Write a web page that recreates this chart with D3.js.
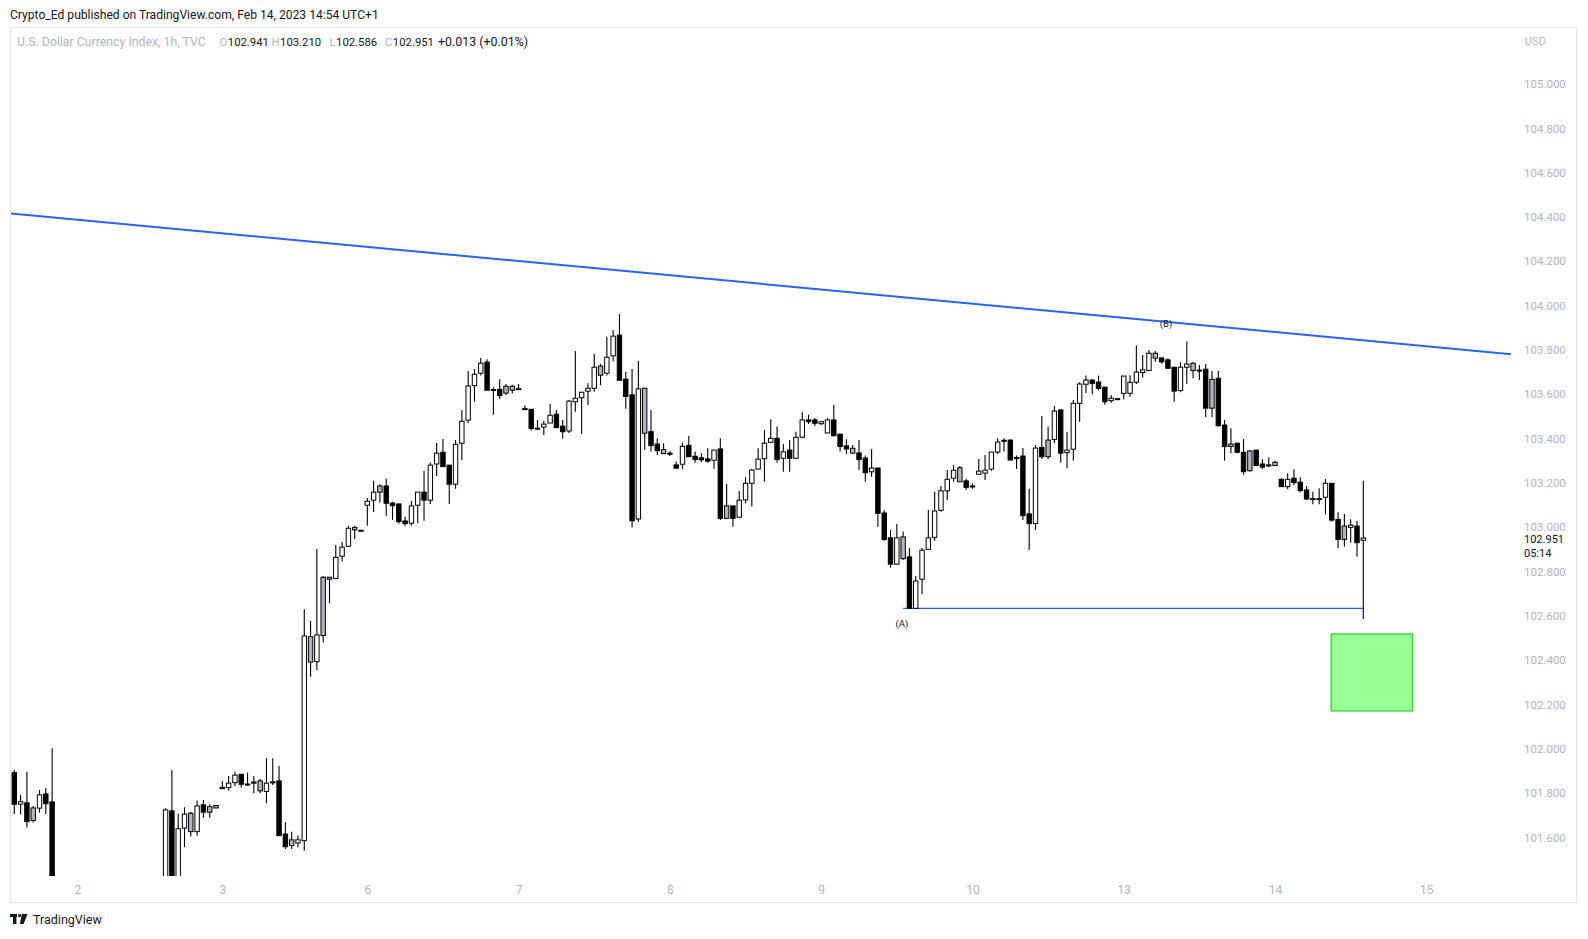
<!DOCTYPE html>
<html>
<head>
<meta charset="utf-8">
<script src="https://cdn.jsdelivr.net/npm/d3@7"></script>
<style>
  html, body { margin: 0; padding: 0; background: #fff; }
  svg { display: block; font-family: Roboto, "Liberation Sans", sans-serif; }
</style>
</head>
<body>
<svg id="chart" width="1588" height="939"></svg>
<script>
// hourly DXY candles, index 0 = Feb 1 14:00 (UTC+1)
// bars 7-23 sit below the visible price range, so they are rough guesses
const open = [101.892,101.750,101.756,101.676,101.732,101.796,101.760,
  101.30,101.12,100.98,100.92,100.96,101.00,101.02,101.04,101.06,101.03,101.00,101.05,101.10,101.15,101.12,101.17,101.20,
  101.26,101.720,101.35,101.642,101.709,101.626,101.747,101.714,101.733,101.826,101.825,101.847,101.885,101.841,101.850,101.855,
  101.807,101.846,101.855,101.615,101.563,101.575,101.585,102.506,102.393,102.511,102.765,102.768,102.869,102.914,102.988,102.986,
  103.099,103.122,103.158,103.186,103.109,103.105,103.028,103.018,103.099,103.158,103.122,103.285,103.338,103.280,103.194,103.379,
  103.483,103.639,103.695,103.745,103.621,103.622,103.605,103.636,103.623,103.535,103.532,103.447,103.452,103.470,103.510,103.456,
  103.434,103.566,103.584,103.614,103.627,103.727,103.695,103.773,103.867,103.668,103.597,103.037,103.627,103.431,103.375,103.350,
  103.334,103.281,103.284,103.369,103.320,103.313,103.308,103.302,103.353,103.040,103.096,103.045,103.123,103.198,103.262,103.309,
  103.383,103.401,103.311,103.348,103.311,103.406,103.484,103.484,103.467,103.425,103.484,103.420,103.367,103.356,103.335,103.312,
  103.250,103.267,103.064,102.952,102.833,102.956,102.866,102.634,102.765,102.900,102.954,103.076,103.164,103.221,103.268,103.209,
  103.186,103.239,103.244,103.262,103.339,103.390,103.393,103.314,103.321,103.060,103.016,103.360,103.318,103.396,103.529,103.336,
  103.352,103.559,103.645,103.664,103.655,103.632,103.571,103.580,103.604,103.604,103.654,103.698,103.707,103.785,103.764,103.755,
  103.722,103.617,103.722,103.740,103.708,103.713,103.537,103.672,103.461,103.364,103.379,103.338,103.255,103.348,103.285,103.281,
  103.278,103.216,103.183,103.221,103.203,103.168,103.129,103.128,103.135,103.198,103.035,102.945,102.999,103.005,102.941];

const high = [101.904,101.792,101.896,101.742,101.814,101.823,102.002,
  101.38,101.20,101.05,101.02,101.04,101.06,101.08,101.10,101.12,101.08,101.07,101.14,101.18,101.22,101.20,101.24,101.30,
  101.732,101.904,101.708,101.736,101.716,101.766,101.769,101.750,101.746,101.855,101.877,101.896,101.885,101.892,101.877,101.864,
  101.957,101.957,101.923,101.669,101.626,101.609,102.630,102.577,102.902,102.780,102.776,102.920,102.933,103.006,103.006,102.988,
  103.132,103.209,103.194,103.218,103.115,103.105,103.047,103.118,103.158,103.254,103.292,103.380,103.398,103.280,103.393,103.529,
  103.705,103.713,103.764,103.758,103.632,103.668,103.646,103.643,103.646,103.550,103.532,103.484,103.479,103.556,103.529,103.484,
  103.574,103.795,103.609,103.650,103.782,103.737,103.859,103.890,103.962,103.700,103.714,103.750,103.627,103.529,103.401,103.379,
  103.344,103.296,103.382,103.411,103.341,103.334,103.356,103.348,103.401,103.195,103.096,103.163,103.225,103.262,103.356,103.439,
  103.487,103.454,103.375,103.393,103.431,103.521,103.507,103.493,103.476,103.491,103.551,103.420,103.397,103.371,103.393,103.323,
  103.353,103.267,103.076,102.987,103.014,102.980,102.906,102.780,102.906,103.078,103.160,103.186,103.258,103.281,103.276,103.218,
  103.198,103.308,103.326,103.339,103.401,103.401,103.397,103.323,103.357,103.173,103.371,103.502,103.454,103.547,103.533,103.431,
  103.574,103.654,103.684,103.668,103.684,103.632,103.597,103.582,103.682,103.686,103.820,103.777,103.800,103.795,103.764,103.762,
  103.722,103.745,103.838,103.745,103.732,103.736,103.705,103.705,103.484,103.447,103.379,103.398,103.348,103.348,103.306,103.314,
  103.300,103.221,103.243,103.261,103.225,103.186,103.160,103.176,103.218,103.198,103.067,103.060,103.036,103.028,103.210];

const low = [101.706,101.705,101.646,101.667,101.712,101.705,101.22,
  101.05,100.90,100.85,100.88,100.92,100.95,100.98,101.00,101.01,100.97,100.96,101.02,101.06,101.08,101.07,101.12,101.16,
  101.22,101.30,101.32,101.556,101.604,101.607,101.689,101.689,101.731,101.820,101.811,101.832,101.825,101.834,101.799,101.799,
  101.754,101.837,101.608,101.548,101.548,101.556,101.540,102.325,102.356,102.479,102.657,102.766,102.845,102.912,102.947,102.984,
  103.007,103.069,103.111,103.052,103.033,103.015,103.007,103.007,103.018,103.029,103.105,103.231,103.273,103.105,103.173,103.303,
  103.469,103.566,103.684,103.618,103.507,103.578,103.596,103.603,103.621,103.531,103.436,103.438,103.416,103.470,103.449,103.400,
  103.425,103.521,103.420,103.551,103.611,103.641,103.684,103.749,103.663,103.535,102.998,103.025,103.349,103.341,103.326,103.330,
  103.321,103.266,103.262,103.318,103.291,103.294,103.291,103.264,103.032,103.040,103.002,103.045,103.108,103.093,103.262,103.205,
  103.382,103.291,103.250,103.250,103.311,103.401,103.466,103.457,103.461,103.425,103.409,103.341,103.329,103.334,103.258,103.205,
  103.228,103.002,102.939,102.817,102.833,102.852,102.634,102.634,102.697,102.900,102.939,103.070,103.123,103.205,103.205,103.168,
  103.173,103.239,103.213,103.255,103.330,103.341,103.303,103.263,103.032,102.897,102.987,103.308,103.308,103.379,103.291,103.266,
  103.300,103.476,103.605,103.600,103.617,103.553,103.561,103.579,103.577,103.589,103.646,103.676,103.707,103.747,103.737,103.717,
  103.566,103.609,103.646,103.672,103.664,103.496,103.496,103.454,103.300,103.334,103.334,103.236,103.250,103.278,103.263,103.271,
  103.278,103.183,103.171,103.189,103.158,103.123,103.103,103.103,103.058,103.025,102.905,102.912,102.930,102.867,102.586];

const close = [101.750,101.761,101.671,101.733,101.792,101.752,101.30,
  101.12,100.98,100.92,100.96,101.00,101.02,101.04,101.06,101.03,101.00,101.05,101.10,101.15,101.12,101.17,101.20,101.26,
  101.724,101.35,101.639,101.705,101.626,101.742,101.714,101.739,101.744,101.820,101.845,101.881,101.840,101.839,101.845,101.810,
  101.845,101.851,101.608,101.558,101.589,101.589,102.509,102.391,102.514,102.774,102.774,102.864,102.910,102.995,102.999,102.986,
  103.117,103.158,103.186,103.108,103.097,103.025,103.016,103.096,103.158,103.122,103.280,103.334,103.273,103.194,103.374,103.478,
  103.637,103.690,103.740,103.618,103.619,103.594,103.636,103.618,103.625,103.531,103.445,103.445,103.465,103.505,103.449,103.431,
  103.569,103.582,103.609,103.627,103.722,103.686,103.767,103.862,103.663,103.590,103.029,103.624,103.424,103.368,103.345,103.332,
  103.333,103.266,103.365,103.318,103.305,103.304,103.298,103.348,103.040,103.096,103.040,103.122,103.198,103.258,103.307,103.379,
  103.401,103.305,103.340,103.311,103.406,103.484,103.476,103.469,103.476,103.484,103.413,103.364,103.353,103.334,103.305,103.246,
  103.267,103.062,102.944,102.833,102.952,102.858,102.634,102.757,102.896,102.952,103.073,103.164,103.216,103.257,103.205,103.180,
  103.185,103.253,103.257,103.339,103.384,103.392,103.303,103.313,103.052,103.016,103.357,103.318,103.393,103.524,103.334,103.348,
  103.559,103.646,103.664,103.649,103.626,103.566,103.582,103.580,103.682,103.654,103.700,103.710,103.785,103.763,103.746,103.717,
  103.614,103.722,103.736,103.707,103.709,103.537,103.667,103.458,103.364,103.375,103.338,103.250,103.344,103.278,103.271,103.280,
  103.293,103.183,103.216,103.201,103.165,103.127,103.128,103.129,103.198,103.032,102.945,103.005,103.009,102.930,102.951];

// bars painted grey in the original
const greyBars = [3,28,31,32,39,44,47,49,50,54,58,78,79,93,100,103,113,133,141,150,164,181,187,190,193,196,200,211];

const dayIdx = [10, 33, 56, 80, 104, 128, 152, 176, 200, 224];
const dayLabels = ['2', '3', '6', '7', '8', '9', '10', '13', '14', '15'];

const priceTicks = [101.6,101.8,102.0,102.2,102.4,102.6,102.8,103.0,103.2,103.4,103.6,103.8,104.0,104.2,104.4,104.6,104.8,105.0];

// drawings
const trendLine = [[-0.67, 104.416], [237.7, 103.780]];
const supportLine = [[141, 102.634], [214, 102.634]];
const targetBox = { i0: 208.9, i1: 221.8, top: 102.518, bottom: 102.171 };
const waveLabels = [{ t: '(A)', i: 140.8, p: 102.560 }, { t: '(B)', i: 182.7, p: 103.913 }];

const lastPrice = 102.951;
const countdown = '05:14';

// ---------------------------------------------------------------
const svg = d3.select('#chart');
const x = d3.scaleLinear().domain([0, 214]).range([14.3, 1363.3]);
const y = d3.scaleLinear().domain([101.6, 105]).range([837.4, 84.0]);

const candles = open.map((o, i) => ({ i, o, h: high[i], l: low[i], c: close[i] }));
const greySet = new Set(greyBars);

// frame
svg.append('rect')
  .attr('x', 10.5).attr('y', 27.5).attr('width', 1566).attr('height', 875)
  .attr('fill', 'none').attr('stroke', '#e0e3eb');

svg.append('text')
  .attr('x', 10).attr('y', 18.5)
  .attr('font-size', 12.1).attr('fill', '#131722')
  .text('Crypto_Ed published on TradingView.com, Feb 14, 2023 14:54 UTC+1');

// legend line: symbol name then O/H/L/C
const legend = svg.append('g').attr('font-size', 11.3);
legend.append('text').attr('x', 17).attr('y', 45.5).attr('font-size', 12.3)
  .attr('fill', '#b2b5be').text('U.S. Dollar Currency Index, 1h, TVC');
[['O', '102.941', 219.5], ['H', '103.210', 271.5], ['L', '102.586', 329.5], ['C', '102.951', 385]]
  .forEach(([k, v, px]) => {
    const t = legend.append('text').attr('x', px).attr('y', 45.5).attr('fill', '#b2b5be');
    t.append('tspan').text(k);
    t.append('tspan').attr('fill', '#131722').attr('dx', 0.5).text(v);
  });
legend.append('text').attr('x', 438).attr('y', 45.5).attr('font-size', 12.4)
  .attr('fill', '#131722').text('+0.013 (+0.01%)');

svg.append('defs').append('clipPath').attr('id', 'pane')
  .append('rect').attr('x', 11).attr('y', 56).attr('width', 1500).attr('height', 820);

const plot = svg.append('g').attr('clip-path', 'url(#pane)');

// trend line
const line = d3.line().x(d => x(d[0])).y(d => y(d[1]));
plot.append('path').datum(trendLine)
  .attr('d', line).attr('stroke', '#2962ff').attr('stroke-width', 2).attr('fill', 'none');

plot.append('path').datum(supportLine)
  .attr('d', line).attr('stroke', '#2962ff').attr('stroke-width', 1.2).attr('fill', 'none');

// target box
plot.append('rect')
  .attr('x', x(targetBox.i0)).attr('y', y(targetBox.top))
  .attr('width', x(targetBox.i1) - x(targetBox.i0))
  .attr('height', y(targetBox.bottom) - y(targetBox.top))
  .attr('fill', '#99ff99').attr('stroke', '#3fdc3f').attr('stroke-width', 1.5);

// candles
const bw = 4.4;
const bar = plot.selectAll('.candle').data(candles).enter().append('g').classed('candle', true);

bar.append('line')
  .attr('x1', d => x(d.i)).attr('x2', d => x(d.i))
  .attr('y1', d => y(d.h)).attr('y2', d => y(d.l))
  .attr('stroke', '#000').attr('stroke-width', 1.1);

bar.append('rect')
  .attr('x', d => x(d.i) - bw / 2)
  .attr('y', d => y(Math.max(d.o, d.c)))
  .attr('width', bw)
  .attr('height', d => Math.max(1, Math.abs(y(d.o) - y(d.c))))
  .attr('fill', d => greySet.has(d.i) ? '#b2b5be' : (d.c >= d.o ? '#ffffff' : '#000000'))
  .attr('stroke', '#000').attr('stroke-width', 1);

// wave labels
svg.selectAll('.wave').data(waveLabels).enter().append('text')
  .classed('wave', true)
  .attr('x', d => x(d.i)).attr('y', d => y(d.p))
  .attr('text-anchor', 'middle').attr('dominant-baseline', 'middle')
  .attr('font-size', 9.5).attr('fill', '#131722')
  .text(d => d.t);

// price axis
const yAxis = d3.axisRight(y).tickValues(priceTicks).tickSize(0).tickPadding(0)
  .tickFormat(d3.format('.3f'));
const yg = svg.append('g').attr('transform', 'translate(1524,0)').call(yAxis);
yg.select('.domain').remove();
yg.selectAll('text').attr('fill', '#b2b5be').attr('font-size', 11.5)
  .attr('font-family', 'Roboto, sans-serif');

svg.append('text').attr('x', 1525).attr('y', 44.5)
  .attr('font-size', 11).attr('fill', '#b2b5be').text('USD');

// last price tag sits over the 103.000 label, as in the original
svg.append('rect').attr('x', 1520).attr('y', y(lastPrice) - 6)
  .attr('width', 50).attr('height', 22).attr('fill', '#fff');
svg.append('text').attr('x', 1524).attr('y', y(lastPrice) + 5)
  .attr('font-size', 11).attr('fill', '#131722').text(d3.format('.3f')(lastPrice));
svg.append('text').attr('x', 1524).attr('y', y(lastPrice) + 18.5)
  .attr('font-size', 11).attr('fill', '#131722').text(countdown);

// time axis
const xAxis = d3.axisBottom(x).tickValues(dayIdx).tickSize(0).tickPadding(3)
  .tickFormat((d, k) => dayLabels[k]);
const xg = svg.append('g').attr('transform', 'translate(0,882)').call(xAxis);
xg.select('.domain').remove();
xg.selectAll('text').attr('fill', '#b2b5be').attr('font-size', 12)
  .attr('font-family', 'Roboto, sans-serif');

// TradingView mark
const logo = svg.append('g').attr('fill', '#131722');
logo.append('rect').attr('x', 10).attr('y', 914).attr('width', 7).attr('height', 3);
logo.append('rect').attr('x', 13).attr('y', 914).attr('width', 3.4).attr('height', 10);
logo.append('circle').attr('cx', 19.6).attr('cy', 915.6).attr('r', 1.6);
logo.append('path').attr('d', 'M22,914 L27.5,914 L23.6,924 L19.8,924 Z');
svg.append('text').attr('x', 33).attr('y', 924)
  .attr('font-size', 12.5).attr('fill', '#131722').text('TradingView');
</script>
</body>
</html>
